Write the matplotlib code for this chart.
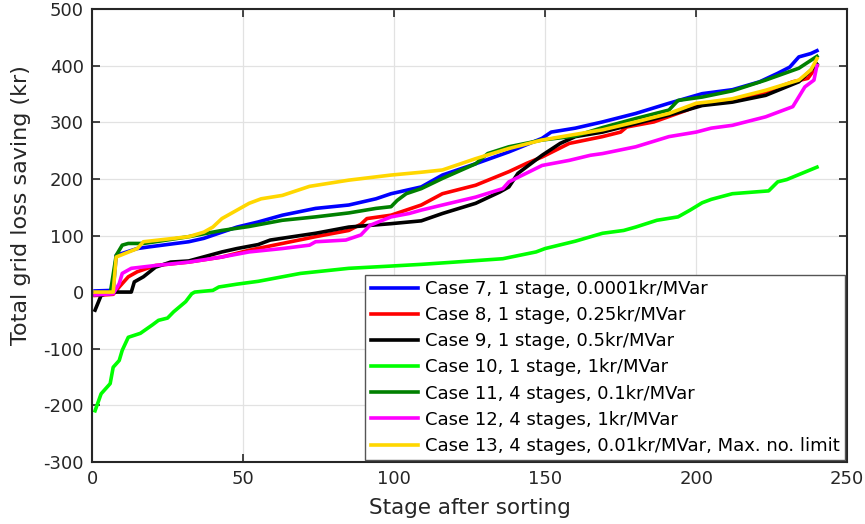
import matplotlib
matplotlib.use("Agg")
import matplotlib.pyplot as plt

plt.rcParams["font.family"] = ["DejaVu Sans"]
plt.rcParams["axes.unicode_minus"] = False

# values (stage index, cumulative saving in kr)
C7_X = [1, 7, 8, 15, 19, 32, 37, 43, 48, 55, 63, 74, 85, 94, 99, 104, 109, 116, 127, 138,
        149, 152, 160, 169, 180, 191, 202, 212, 221, 227, 231, 234, 238, 240]
C7_Y = [2, 3, 65, 77, 80, 89, 95, 106, 115, 124, 136, 148, 154, 165, 174, 180, 186, 207, 227, 248,
        272, 283, 290, 301, 316, 334, 351, 358, 372, 387, 398, 416, 422, 427]

C8_X = [1, 7, 9, 12, 15, 21, 32, 43, 52, 63, 74, 85, 89, 91, 99, 104, 109, 116, 127, 138,
        144, 149, 158, 169, 175, 177, 186, 197, 201, 212, 223, 232, 237, 240]
C8_Y = [-6, -4, 9, 27, 36, 47, 53, 62, 74, 86, 98, 109, 120, 130, 136, 145, 154, 174, 189, 213,
        228, 239, 263, 275, 283, 292, 301, 322, 331, 339, 354, 372, 378, 400]

C9_X = [1, 3, 6, 13, 14, 17, 21, 26, 32, 43, 48, 55, 59, 74, 85, 99, 109, 116, 127, 135,
        138, 141, 149, 155, 160, 169, 180, 191, 202, 212, 223, 234, 240]
C9_Y = [-32, -6, 0, 0, 18, 27, 44, 53, 55, 71, 77, 84, 92, 104, 115, 121, 126, 139, 157, 177,
        186, 210, 242, 263, 275, 283, 298, 313, 330, 336, 348, 372, 403]

C10_X = [1, 3, 6, 7, 9, 10, 12, 16, 20, 22, 25, 27, 29, 31, 33, 34, 40, 42, 48, 55, 69,
         85, 99, 109, 120, 136, 147, 150, 160, 169, 176, 180, 187, 194, 198, 202, 205,
         212, 224, 227, 230, 240]
C10_Y = [-210, -180, -162, -133, -121, -103, -80, -73, -58, -50, -46, -35, -26, -17, -3, 0, 3,
         9, 14, 19, 33, 42, 46, 49, 53, 59, 71, 77, 90, 104, 109, 115, 127, 133, 145, 158,
         164, 174, 179, 195, 199, 221]

C11_X = [1, 6, 8, 10, 12, 17, 21, 32, 43, 52, 63, 74, 85, 94, 99, 101, 104, 109, 116, 127,
         131, 138, 149, 160, 169, 180, 191, 194, 202, 212, 223, 234, 240]
C11_Y = [-5, -3, 65, 83, 86, 86, 89, 98, 109, 116, 127, 133, 140, 148, 151, 162, 174, 183, 201, 227,
         245, 257, 269, 276, 291, 307, 322, 339, 345, 356, 375, 396, 417]

C12_X = [1, 7, 9, 10, 13, 21, 32, 43, 52, 63, 72, 74, 84, 89, 92, 99, 105, 109, 116, 127,
         136, 138, 149, 158, 165, 169, 180, 191, 200, 205, 212, 223, 232, 236, 239, 240]
C12_Y = [-5, -3, 15, 33, 42, 47, 53, 62, 71, 77, 83, 89, 92, 101, 118, 133, 139, 145, 154, 168,
         183, 195, 224, 233, 242, 245, 257, 275, 283, 290, 295, 310, 328, 363, 375, 401]

C13_X = [1, 7, 8, 15, 17, 32, 37, 40, 43, 48, 52, 56, 63, 72, 85, 99, 109, 116, 127, 138,
         149, 160, 169, 180, 191, 200, 205, 212, 223, 234, 238, 240]
C13_Y = [0, 0, 62, 77, 89, 98, 106, 115, 130, 145, 157, 165, 171, 187, 198, 207, 212, 216, 236, 254,
         269, 279, 287, 301, 316, 334, 337, 342, 357, 375, 393, 413]

SERIES = [
    (C7_X, C7_Y, "#0000FF", "Case 7, 1 stage, 0.0001kr/MVar"),
    (C8_X, C8_Y, "#FF0000", "Case 8, 1 stage, 0.25kr/MVar"),
    (C9_X, C9_Y, "#000000", "Case 9, 1 stage, 0.5kr/MVar"),
    (C10_X, C10_Y, "#00FF00", "Case 10, 1 stage, 1kr/MVar"),
    (C11_X, C11_Y, "#008000", "Case 11, 4 stages, 0.1kr/MVar"),
    (C12_X, C12_Y, "#FF00FF", "Case 12, 4 stages, 1kr/MVar"),
    (C13_X, C13_Y, "#FFD700", "Case 13, 4 stages, 0.01kr/MVar, Max. no. limit"),
]

fig = plt.figure(figsize=(8.65, 5.24), dpi=100)
ax = fig.add_axes([0.1064, 0.119, 0.873, 0.863])

for x, y, c, lab in SERIES:
    ax.plot(x, y, color=c, lw=2.6, label=lab)

ax.set_xlim(0, 250)
ax.set_ylim(-300, 500)
ax.set_xticks(range(0, 251, 50))
ax.set_yticks(range(-300, 501, 100))
ax.grid(color="#e2e2e2", lw=0.9)
ax.set_axisbelow(True)
ax.tick_params(direction="in", length=6, width=1.2, top=True, right=True,
               labelsize=13, colors="#262626", pad=6)
for s in ax.spines.values():
    s.set_linewidth(1.5)
    s.set_color("#262626")

ax.set_xlabel("Stage after sorting", fontsize=15.5, color="#262626", labelpad=7)
ax.set_ylabel("Total grid loss saving (kr)", fontsize=16, color="#262626")
ax.yaxis.set_label_coords(-0.081, 0.567)

leg = ax.legend(loc="lower right", bbox_to_anchor=(0.997, 0.003), borderaxespad=0.0,
                fontsize=13, handlelength=2.6, labelspacing=0.45, handletextpad=0.4,
                fancybox=False, framealpha=1, edgecolor="#555555", borderpad=0.3)
leg.get_frame().set_linewidth(1.0)

fig.savefig("out.png", dpi=100)
